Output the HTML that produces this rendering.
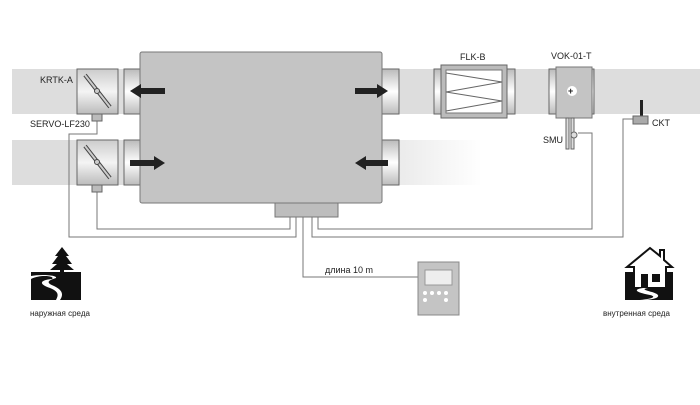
<!DOCTYPE html>
<html><head><meta charset="utf-8"><style>
body{margin:0;background:#fff;width:700px;height:400px;overflow:hidden}
svg text{font-family:"Liberation Sans",sans-serif;font-size:9px;fill:#222}
</style></head><body>
<svg width="700" height="400" xmlns="http://www.w3.org/2000/svg">
<defs>
<linearGradient id="cyl" x1="0" y1="0" x2="0" y2="1">
<stop offset="0" stop-color="#bbb"/><stop offset="0.5" stop-color="#fff"/><stop offset="1" stop-color="#bbb"/></linearGradient>
<linearGradient id="box" x1="0" y1="0" x2="0" y2="1">
<stop offset="0" stop-color="#ccc"/><stop offset="0.5" stop-color="#f4f4f4"/><stop offset="1" stop-color="#bbb"/></linearGradient>
<linearGradient id="fade" x1="0" y1="0" x2="1" y2="0">
<stop offset="0" stop-color="#ddd"/><stop offset="0.7" stop-color="#ddd"/><stop offset="1" stop-color="#fff"/></linearGradient>
</defs>
<rect x="12" y="69" width="688" height="45" fill="#ddd"/>
<rect x="12" y="140" width="470" height="45" fill="url(#fade)"/>
<g stroke="#777" stroke-width="1" fill="none">
<path d="M97,121 V134 H69 V237 H296 V217"/>
<path d="M97,192 V229 H290 V217"/>
<path d="M312,217 V237 H623 V119 H633"/>
<path d="M318,217 V229 H592 V133 H578"/>
<path d="M303,217 V277 H418"/>
</g>
<g>
<rect x="77" y="69" width="41" height="45" fill="url(#box)" stroke="#666"/>
<rect x="124" y="69" width="18" height="45" fill="url(#cyl)" stroke="#666"/>
<rect x="77" y="140" width="41" height="45" fill="url(#box)" stroke="#666"/>
<rect x="124" y="140" width="18" height="45" fill="url(#cyl)" stroke="#666"/>
<line x1="85" y1="75" x2="110" y2="107" stroke="#444" stroke-width="4"/>
<line x1="85" y1="75" x2="110" y2="107" stroke="#ccc" stroke-width="2"/>
<line x1="85" y1="146" x2="110" y2="178" stroke="#444" stroke-width="4"/>
<line x1="85" y1="146" x2="110" y2="178" stroke="#ccc" stroke-width="2"/>
<circle cx="97" cy="91" r="2.5" fill="#ccc" stroke="#444"/>
<circle cx="97" cy="162" r="2.5" fill="#ccc" stroke="#444"/>
<rect x="92" y="114" width="10" height="7" fill="#bbb" stroke="#666"/>
<rect x="92" y="185" width="10" height="7" fill="#bbb" stroke="#666"/>
</g>
<rect x="381" y="69" width="18" height="45" fill="url(#cyl)" stroke="#666"/>
<rect x="381" y="140" width="18" height="45" fill="url(#cyl)" stroke="#666"/>
<rect x="140" y="52" width="242" height="151" rx="2" fill="#c4c4c4" stroke="#777"/>
<rect x="275" y="203" width="63" height="14" fill="#bdbdbd" stroke="#777"/>
<g fill="#222">
<polygon points="130,91 141,84 141,88 165,88 165,94 141,94 141,98"/>
<polygon points="388,91 377,84 377,88 355,88 355,94 377,94 377,98"/>
<polygon points="165,163 154,156 154,160 130,160 130,166 154,166 154,170"/>
<polygon points="355,163 366,156 366,160 388,160 388,166 366,166 366,170"/>
</g>
<rect x="434" y="69" width="81" height="45" fill="url(#cyl)" stroke="#666"/>
<rect x="441" y="65" width="66" height="53" fill="#bbb" stroke="#666"/>
<rect x="446" y="70" width="56" height="43" fill="#fff" stroke="#777"/>
<polyline points="446,73 502,82 446,92 502,101 446,111" fill="none" stroke="#666"/>
<rect x="549" y="69" width="45" height="45" fill="url(#cyl)" stroke="#666"/>
<rect x="556" y="67" width="36" height="51" fill="#c4c4c4" stroke="#777"/>
<circle cx="572" cy="91" r="5" fill="#fff"/>
<text x="568" y="94" style="font-size:9px;font-weight:bold">+</text>
<g stroke="#666" fill="#ddd">
<rect x="566" y="118" width="3" height="31"/><rect x="571" y="118" width="3" height="31"/>
<circle cx="574" cy="135" r="3"/>
</g>
<rect x="640" y="100" width="3" height="16" fill="#222"/>
<rect x="633" y="116" width="15" height="8" fill="#aaa" stroke="#666"/>
<rect x="418" y="262" width="41" height="53" fill="#c4c4c4" stroke="#888"/>
<rect x="425" y="270" width="27" height="15" fill="#eee" stroke="#999"/>
<g fill="#fff"><circle cx="425" cy="293" r="2"/><circle cx="432" cy="293" r="2"/><circle cx="439" cy="293" r="2"/><circle cx="446" cy="293" r="2"/><circle cx="425" cy="300" r="2"/><circle cx="446" cy="300" r="2"/></g>
<!-- tree icon -->
<polygon points="62,247 55,256 58,256 52,264 57,264 50,270 74,270 67,264 72,264 66,256 69,256" fill="#111"/>
<rect x="60" y="269" width="4" height="4" fill="#111"/>
<rect x="31" y="272" width="50" height="28" fill="#111"/>
<path d="M31,279 C40,274 56,276 52,279 C40,280 38,284 50,288 C60,292 58,296 56,300 H60 C64,294 62,290 54,286 C44,282 50,280 56,278 C58,275 40,274 31,276Z" fill="#fff"/>
<!-- house -->
<rect x="625" y="272" width="48" height="28" fill="#111"/>
<polygon points="627,267 650,248 660,256 660,250 664,250 664,260 672,267 666,267 666,288 634,288 634,267" fill="#fff" stroke="#111" stroke-width="2"/>
<rect x="641" y="274" width="7" height="14" fill="#111"/><rect x="652" y="274" width="8" height="8" fill="#111"/>
<path d="M643,288 C630,290 640,293 650,295 C658,297 650,299 640,300 H645 C660,299 662,295 652,292 C644,290 642,289 648,288Z" fill="#fff"/>
<text x="30" y="316" style="font-size:8px">наружная среда</text>
<text x="603" y="316" style="font-size:8px">внутренная среда</text>
<text x="40" y="83">KRTK-A</text>
<text x="30" y="127">SERVO-LF230</text>
<text x="460" y="60">FLK-B</text>
<text x="551" y="59">VOK-01-T</text>
<text x="543" y="143">SMU</text>
<text x="652" y="126">CKT</text>
<text x="325" y="273">длина 10 m</text>
</svg>
</body></html>
